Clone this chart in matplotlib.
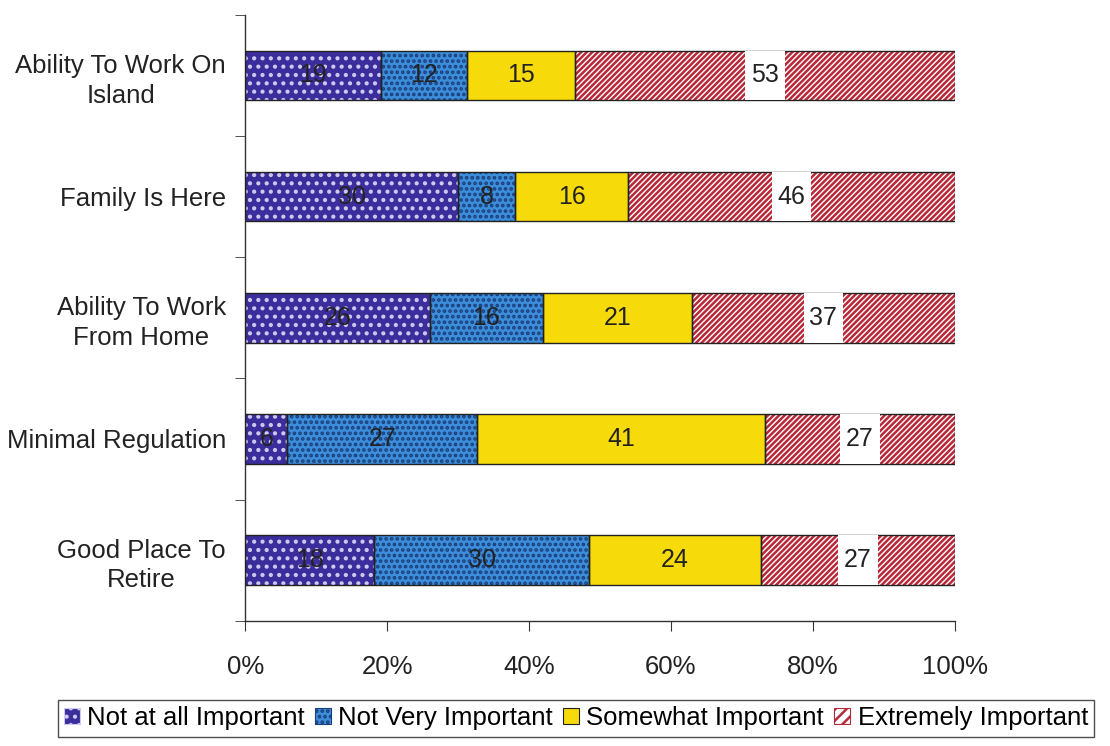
import matplotlib
matplotlib.use("Agg")
import matplotlib.pyplot as plt
import numpy as np
from matplotlib.patches import Patch, Rectangle

categories = ["Ability To Work On\nIsland", "Family Is Here", "Ability To Work\nFrom Home",
              "Minimal Regulation", "Good Place To\nRetire"]
series_names = ["Not at all Important", "Not Very Important", "Somewhat Important", "Extremely Important"]
not_at_all = [19, 30, 26, 6, 18]
not_very = [12, 8, 16, 27, 30]
somewhat = [15, 16, 21, 41, 24]
extremely = [53, 46, 37, 27, 27]
xtick_labels = ["0%", "20%", "40%", "60%", "80%", "100%"]

series = [not_at_all, not_very, somewhat, extremely]
faces = ["#3B2E9C", "#3C8EDB", "#F7DA0A", "white"]
hatches = ["..", "...", None, "//////"]
hatch_cols = ["#CFC8F0", "#1B3D7A", None, "#B82838"]

plt.rcParams['font.family'] = ['Liberation Sans', 'DejaVu Sans']
plt.rcParams['hatch.linewidth'] = 1.8
fig = plt.figure(figsize=(11.1, 7.46), dpi=100)
ax = fig.add_axes([0.221, 0.168, 0.639, 0.812])

data = np.array(series, dtype=float)
totals = data.sum(axis=0)
pct = data / totals * 100
y = np.arange(len(categories))
h = 0.41
left = np.zeros(len(categories))
for i in range(4):
    if hatches[i]:
        ax.barh(y, pct[i], left=left, height=h, color=faces[i], hatch=hatches[i],
                edgecolor=hatch_cols[i], linewidth=0, zorder=2)
    else:
        ax.barh(y, pct[i], left=left, height=h, color=faces[i], linewidth=0, zorder=2)
    ax.barh(y, pct[i], left=left, height=h, fill=False, edgecolor="#222222", linewidth=1.0, zorder=3)
    for j in range(len(categories)):
        cx = left[j] + pct[i][j] / 2
        if i == 3:
            ax.add_patch(Rectangle((cx - 2.8, y[j] - h / 2), 5.6, h, facecolor="white",
                                   edgecolor="none", zorder=3.5))
        ax.text(cx, y[j], str(int(data[i][j])), ha="center", va="center", fontsize=18,
                color="#222222", zorder=4)
    left += pct[i]

ax.set_ylim(len(categories) - 0.5, -0.5)
ax.set_xlim(0, 100)
ax.set_yticks(y)
ax.set_yticklabels(categories, fontsize=18.5, color="#222222", multialignment="center",
                   linespacing=1.3)
ax.set_yticks(np.arange(-0.5, len(categories)), minor=True)
ax.tick_params(axis="y", which="major", length=0, pad=14)
ax.tick_params(axis="y", which="minor", length=7, direction="out", color="#333333")
ax.set_xticks(np.linspace(0, 100, 6))
ax.set_xticklabels(xtick_labels, fontsize=18.5, color="#222222")
ax.tick_params(axis="x", length=7, pad=18, color="#333333")
for s in ["top", "right"]:
    ax.spines[s].set_visible(False)
for s in ["left", "bottom"]:
    ax.spines[s].set_color("#333333")
    ax.spines[s].set_linewidth(1.0)

handles = []
for i in range(4):
    if hatches[i]:
        handles.append(Patch(facecolor=faces[i], hatch=hatches[i][:3],
                             edgecolor=hatch_cols[i], linewidth=0.8))
    else:
        handles.append(Patch(facecolor=faces[i], edgecolor="#222222", linewidth=0.8))
leg = fig.legend(handles, series_names, loc="center", bbox_to_anchor=(0.519, 0.037), ncol=4,
                 fontsize=18.5, frameon=True, fancybox=False, edgecolor="#222222",
                 handlelength=0.6, handleheight=0.6, handletextpad=0.3, columnspacing=0.4,
                 borderpad=0.25)
leg.get_frame().set_linewidth(1.0)

fig.savefig("out.png", dpi=100)
